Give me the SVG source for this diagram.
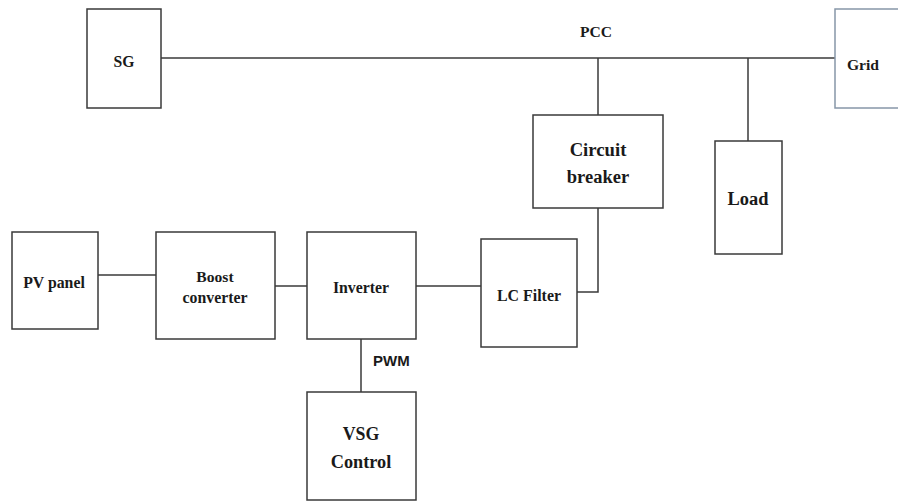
<svg xmlns="http://www.w3.org/2000/svg" width="898" height="502" viewBox="0 0 898 502">
<style>
.box{fill:#fff;stroke:#3a3a3a;stroke-width:1.5}
.grid{fill:#fff;stroke:#8796a8;stroke-width:1.5}
.wire{fill:none;stroke:#3a3a3a;stroke-width:1.5}
.t{font-family:"Liberation Serif","Times New Roman",serif;font-weight:bold;fill:#1a1a1a;text-anchor:middle}
.s{font-family:"Liberation Sans",Arial,sans-serif;font-weight:bold;fill:#1a1a1a}
</style>
<rect width="898" height="502" fill="#fff"/>
<g id="connectors">
<line class="wire" x1="161" y1="58" x2="835" y2="58"/>
<line class="wire" x1="598" y1="58" x2="598" y2="115"/>
<line class="wire" x1="748" y1="58" x2="748" y2="141"/>
<polyline class="wire" points="598,208 598,292 577,292"/>
<line class="wire" x1="98" y1="275" x2="156" y2="275"/>
<line class="wire" x1="275" y1="286" x2="307" y2="286"/>
<line class="wire" x1="416" y1="286" x2="481" y2="286"/>
<line class="wire" x1="361" y1="339" x2="361" y2="392"/>
</g>
<text class="t" x="596" y="37" font-size="15.6">PCC</text>
<text class="s" x="373" y="366" font-size="15">PWM</text>
<g id="sg"><rect class="box" x="87" y="9" width="74" height="99"/><text class="t" x="124" y="67" font-size="15.7">SG</text></g>
<g id="grid"><rect class="grid" x="835" y="9" width="70" height="99"/><text class="t" x="863" y="69.5" font-size="15.6">Grid</text></g>
<g id="circuit-breaker"><rect class="box" x="533" y="115" width="130" height="93"/><text class="t" x="598" y="156" font-size="18.7">Circuit</text><text class="t" x="598" y="183" font-size="18.5">breaker</text></g>
<g id="load"><rect class="box" x="715" y="141" width="67" height="113"/><text class="t" x="748" y="205" font-size="18.4">Load</text></g>
<g id="pv-panel"><rect class="box" x="12" y="232" width="86" height="97"/><text class="t" x="54" y="288" font-size="15.8">PV panel</text></g>
<g id="boost-converter"><rect class="box" x="156" y="232" width="119" height="107"/><text class="t" x="215" y="282" font-size="15.6">Boost</text><text class="t" x="215" y="303" font-size="15.8">converter</text></g>
<g id="inverter"><rect class="box" x="307" y="232" width="109" height="107"/><text class="t" x="361" y="293" font-size="15.8">Inverter</text></g>
<g id="lc-filter"><rect class="box" x="481" y="239" width="96" height="108"/><text class="t" x="529" y="301" font-size="15.9">LC Filter</text></g>
<g id="vsg-control"><rect class="box" x="307" y="392" width="109" height="108"/><text class="t" x="361" y="440" font-size="17.8">VSG</text><text class="t" x="361" y="468" font-size="18.3">Control</text></g>
</svg>
